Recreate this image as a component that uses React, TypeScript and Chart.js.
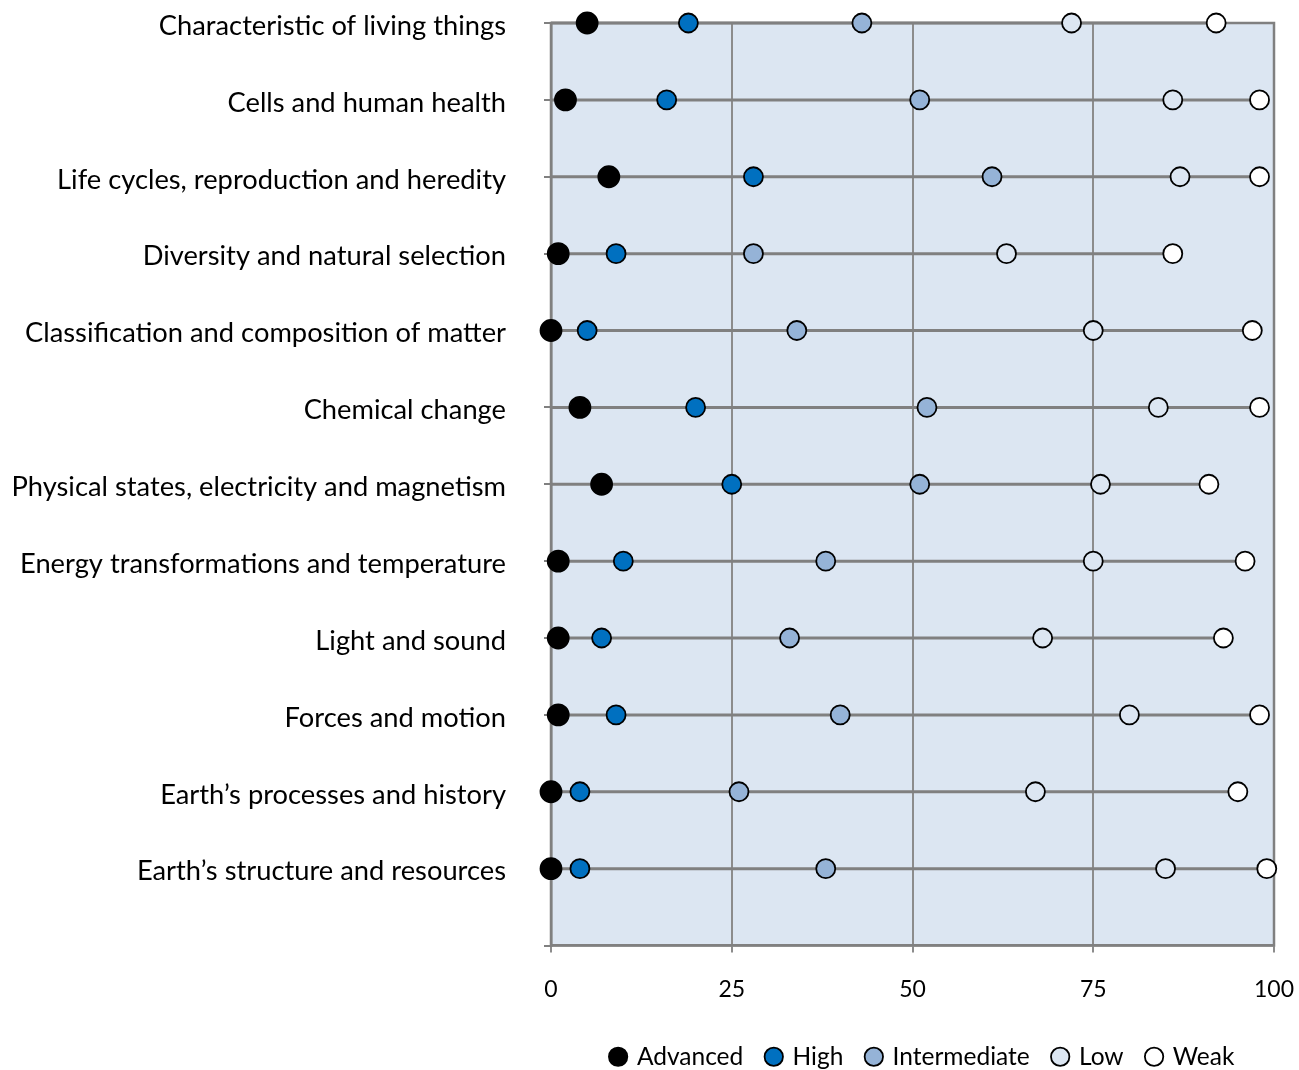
import React, { useEffect, useRef } from "react";
import { Chart, registerables } from "chart.js";

Chart.register(...registerables);

const categories = [
  "Characteristic of living things",
  "Cells and human health",
  "Life cycles, reproduction and heredity",
  "Diversity and natural selection",
  "Classification and composition of matter",
  "Chemical change",
  "Physical states, electricity and magnetism",
  "Energy transformations and temperature",
  "Light and sound",
  "Forces and motion",
  "Earth\u2019s processes and history",
  "Earth\u2019s structure and resources",
];

const advanced = [5, 2, 8, 1, 0, 4, 7, 1, 1, 1, 0, 0];
const high = [19, 16, 28, 9, 5, 20, 25, 10, 7, 9, 4, 4];
const intermediate = [43, 51, 61, 28, 34, 52, 51, 38, 33, 40, 26, 38];
const low = [72, 86, 87, 63, 75, 84, 76, 75, 68, 80, 67, 85];
const weak = [92, 98, 98, 86, 97, 98, 91, 96, 93, 98, 95, 99];

const xTicks = [0, 25, 50, 75, 100];

const FONT = "Lato";
const GRID = "#8c8c8c";
const LINE = "#808080";
const BG = "#dce6f2";

export default function App() {
  const ref = useRef<HTMLCanvasElement | null>(null);

  useEffect(() => {
    document.body.style.margin = "0";
    const canvas = ref.current;
    if (!canvas) return;

    const connector: any[] = [];
    weak.forEach((w, i) => {
      connector.push({ x: 0, y: i });
      connector.push({ x: w, y: i });
      connector.push({ x: null, y: null });
    });

    const pts = (arr: number[]) => arr.map((v, i) => ({ x: v, y: i }));

    const mk = (label: string, arr: number[], color: string, r: number, order: number) => ({
      type: "scatter" as const,
      label,
      data: pts(arr),
      backgroundColor: color,
      borderColor: "#000000",
      borderWidth: 1.8,
      pointRadius: r,
      pointHoverRadius: r,
      pointStyle: "circle",
      clip: false,
      order,
    });

    const bgPlugin = {
      id: "plotBg",
      beforeDraw(chart: any) {
        const { ctx, chartArea } = chart;
        ctx.save();
        ctx.fillStyle = BG;
        ctx.fillRect(chartArea.left, chartArea.top, chartArea.right - chartArea.left, chartArea.bottom - chartArea.top);
        ctx.restore();
        const lg = chart.legend;
        if (lg) {
          const shift = 923 - (lg.left + lg.right) / 2;
          lg.left += shift;
          lg.right += shift;
          lg.top += 9;
          lg.bottom += 9;
        }
      },
      beforeDatasetsDraw(chart: any) {
        const { ctx, chartArea } = chart;
        ctx.save();
        ctx.strokeStyle = LINE;
        ctx.lineWidth = 2.5;
        ctx.strokeRect(chartArea.left, chartArea.top, chartArea.right - chartArea.left, chartArea.bottom - chartArea.top);
        ctx.restore();
      },
    };

    const chart = new Chart(canvas, {
      type: "scatter",
      data: {
        datasets: [
          {
            type: "line",
            label: "connector",
            data: connector,
            borderColor: LINE,
            borderWidth: 3,
            pointRadius: 0,
            pointHoverRadius: 0,
            spanGaps: false,
            showLine: true,
            fill: false,
            clip: false,
            order: 10,
          } as any,
          mk("Advanced", advanced, "#000000", 10.5, 1),
          mk("High", high, "#0070c0", 9.5, 2),
          mk("Intermediate", intermediate, "#95b3d7", 9.5, 3),
          mk("Low", low, "#dce6f2", 9.5, 4),
          mk("Weak", weak, "#ffffff", 9.5, 5),
        ],
      },
      options: {
        animation: false,
        responsive: false,
        layout: { padding: { top: 23, right: 25, left: 0, bottom: 0 } },
        plugins: {
          tooltip: { enabled: false },
          legend: {
            position: "bottom",
            labels: {
              filter: (item: any) => item.text !== "connector",
              sort: (a: any, b: any) => a.datasetIndex - b.datasetIndex,
              usePointStyle: true,
              pointStyle: "circle",
              boxHeight: 13,
              boxWidth: 13,
              padding: 24,
              color: "#000000",
              font: { family: FONT, size: 24.5 },
            },
          },
        },
        scales: {
          x: {
            type: "linear",
            min: 0,
            max: 100,
            afterBuildTicks: (scale: any) => {
              scale.ticks = xTicks.map((v) => ({ value: v }));
            },
            ticks: {
              color: "#000000",
              padding: 23,
              font: { family: FONT, size: 23 },
            },
            grid: {
              color: GRID,
              lineWidth: 2,
              drawTicks: true,
              tickLength: 7,
            },
            border: { display: true, color: LINE, width: 2.5 },
            afterFit: (scale: any) => {
              scale.height = 66;
              scale.paddingLeft = 0;
              scale.paddingRight = 0;
            },
          },
          y: {
            type: "linear",
            min: 0,
            max: 12,
            reverse: true,
            afterBuildTicks: (scale: any) => {
              const t: any[] = [];
              for (let i = 0; i <= categories.length; i++) t.push({ value: i });
              scale.ticks = t;
            },
            ticks: {
              color: "#000000",
              padding: 38,
              labelOffset: 3,
              autoSkip: false,
              font: { family: FONT, size: 27.3 },
              callback: (v: any) => categories[v as number] ?? "",
            },
            grid: {
              color: LINE,
              lineWidth: 2,
              drawOnChartArea: false,
              drawTicks: true,
              tickLength: 7,
            },
            border: { display: true, color: LINE, width: 2.5 },
            afterFit: (scale: any) => {
              scale.width = 551;
              scale.paddingTop = 0;
              scale.paddingBottom = 0;
            },
          },
        },
      },
      plugins: [bgPlugin],
    });

    return () => chart.destroy();
  }, []);

  return (
    <div style={{ width: 1299, height: 1070 }}>
      <canvas ref={ref} width={1299} height={1070} style={{ display: "block" }} />
    </div>
  );
}
